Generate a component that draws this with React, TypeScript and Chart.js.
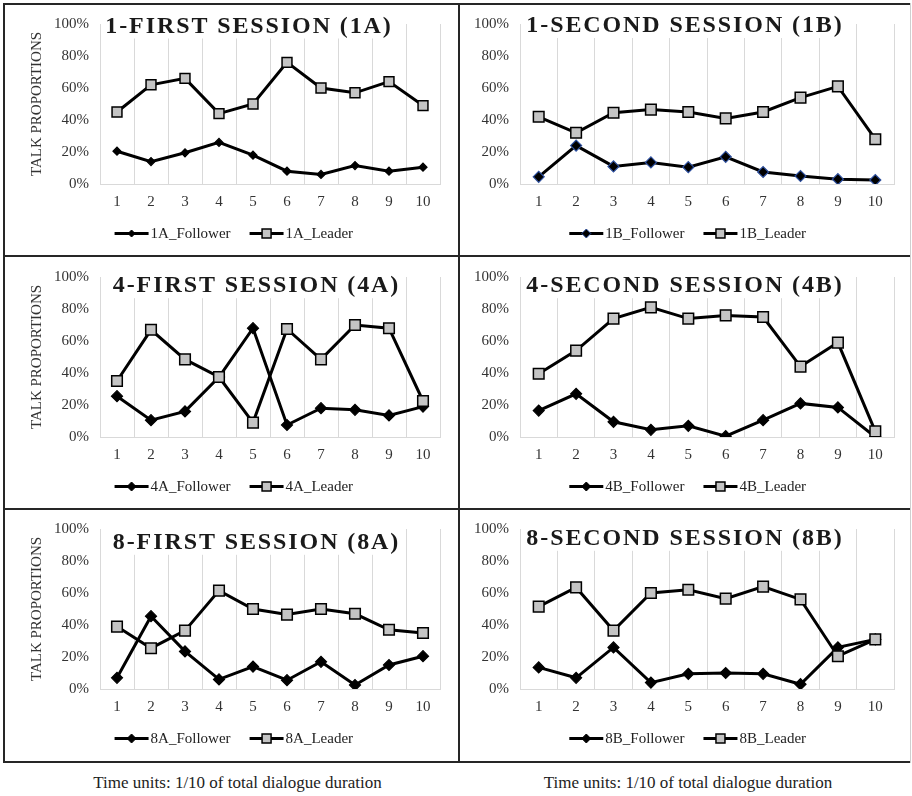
import React, { useEffect, useRef } from 'react';
import { Chart, registerables } from 'chart.js';

Chart.register(...registerables);

// ---------- data ----------
const categories = ['1', '2', '3', '4', '5', '6', '7', '8', '9', '10'];
const yTickValues = [0, 20, 40, 60, 80, 100];
const yAxisTitle = 'TALK PROPORTIONS';
const caption = 'Time units: 1/10 of total dialogue duration';

const follower1A = [20.5, 14, 19.5, 26, 18, 8, 6, 11.5, 8, 10.5];
const leader1A = [45, 62, 66, 44, 50, 76, 60, 57, 64, 49];

const follower1B = [4.5, 24, 11, 13.5, 10.5, 17, 7.5, 5, 3, 2.5];
const leader1B = [42, 32, 44.5, 46.5, 45, 41, 45, 54, 61, 28];

const follower4A = [25.5, 10.5, 16, 37.5, 68, 7.5, 18, 17, 13.5, 19];
const leader4A = [35, 67, 48.5, 37.5, 9, 67.5, 48.5, 70, 68, 22.5];

const follower4B = [16.5, 27, 9.5, 4.5, 7, 0.5, 10.5, 21, 18.5, 0];
const leader4B = [39.5, 54, 74, 81, 74, 76, 75, 44, 59, 3.5];

const follower8A = [7, 45.5, 23.5, 6, 14, 5.5, 17, 2.5, 15, 20.5];
const leader8A = [39, 25.5, 36.5, 61.5, 50, 46.5, 50, 47, 37, 35];

const follower8B = [13.5, 7, 26, 4, 9.5, 10, 9.5, 3, 26, 31];
const leader8B = [51.5, 63.5, 36.5, 60, 62, 56.5, 64, 56, 20.5, 31];

const SERIF = "'Times New Roman', 'Liberation Serif', serif";

type PanelCfg = {
  id: string;
  title: string;
  follower: number[];
  leader: number[];
  left: number;
  top: number;
  width: number;
  height: number;
  axisW: number;
  padRight: number;
  showYTitle: boolean;
  titleCx: number;
  titleBase: number;
  legendCx: number;
  fRadius: number;
  fBorder: string;
  lRadius: number;
};

const LEFT = { left: 4, width: 455, axisW: 96, padRight: 19, showYTitle: true, legendCx: 229.8 };
const RIGHT = { left: 459, width: 452, axisW: 61, padRight: 17, showYTitle: false, legendCx: 228.7 };

const panels: PanelCfg[] = [
  { ...LEFT, id: '1A', title: '1-FIRST SESSION (1A)', follower: follower1A, leader: leader1A, top: 4, height: 252, titleCx: 245, titleBase: 28.5, fRadius: 4, fBorder: '#000', lRadius: 7 },
  { ...RIGHT, id: '1B', title: '1-SECOND SESSION (1B)', follower: follower1B, leader: leader1B, top: 4, height: 252, titleCx: 226, titleBase: 28, fRadius: 5.5, fBorder: '#2d4f9e', lRadius: 7.5 },
  { ...LEFT, id: '4A', title: '4-FIRST SESSION (4A)', follower: follower4A, leader: leader4A, top: 257, height: 252, titleCx: 252.5, titleBase: 35.2, fRadius: 5.5, fBorder: '#000', lRadius: 7.5 },
  { ...RIGHT, id: '4B', title: '4-SECOND SESSION (4B)', follower: follower4B, leader: leader4B, top: 257, height: 252, titleCx: 226, titleBase: 35.2, fRadius: 5.5, fBorder: '#000', lRadius: 7.5 },
  { ...LEFT, id: '8A', title: '8-FIRST SESSION (8A)', follower: follower8A, leader: leader8A, top: 509, height: 252, titleCx: 252.5, titleBase: 39.8, fRadius: 5.5, fBorder: '#000', lRadius: 7.5 },
  { ...RIGHT, id: '8B', title: '8-SECOND SESSION (8B)', follower: follower8B, leader: leader8B, top: 509, height: 252, titleCx: 226, titleBase: 35.8, fRadius: 5.5, fBorder: '#000', lRadius: 7.5 },
];

function drawDiamond(ctx: CanvasRenderingContext2D, x: number, y: number, r: number, fill: string, stroke: string) {
  ctx.beginPath();
  ctx.moveTo(x - r, y);
  ctx.lineTo(x, y - r);
  ctx.lineTo(x + r, y);
  ctx.lineTo(x, y + r);
  ctx.closePath();
  ctx.fillStyle = fill;
  ctx.fill();
  ctx.lineWidth = 1;
  ctx.strokeStyle = stroke;
  ctx.stroke();
}

function drawSquare(ctx: CanvasRenderingContext2D, x: number, y: number, s: number) {
  ctx.fillStyle = '#c4c4c4';
  ctx.fillRect(x - s / 2, y - s / 2, s, s);
  ctx.lineWidth = 1.5;
  ctx.strokeStyle = '#000';
  ctx.strokeRect(x - s / 2, y - s / 2, s, s);
}

function makeTitlePlugin(cfg: PanelCfg) {
  return {
    id: 'panelTitle' + cfg.id,
    beforeDatasetsDraw(chart: any) {
      const ctx: CanvasRenderingContext2D = chart.ctx;
      ctx.save();
      ctx.font = `bold 24px ${SERIF}`;
      (ctx as any).letterSpacing = '1.9px';
      const w = ctx.measureText(cfg.title).width;
      const x0 = cfg.titleCx - w / 2;
      ctx.fillStyle = '#ffffff';
      ctx.fillRect(x0 - 4, cfg.titleBase - 21, w + 8, 27);
      ctx.fillStyle = '#1a1a1a';
      ctx.textAlign = 'left';
      ctx.textBaseline = 'alphabetic';
      ctx.fillText(cfg.title, x0, cfg.titleBase);
      ctx.restore();
    },
  };
}

function makeLegendPlugin(cfg: PanelCfg) {
  return {
    id: 'panelLegend' + cfg.id,
    afterDraw(chart: any) {
      const ctx: CanvasRenderingContext2D = chart.ctx;
      const datasets = chart.data.datasets;
      ctx.save();
      ctx.font = `15px ${SERIF}`;
      const lineLen = 34;
      const gapText = 2;
      const gapItem = 19;
      const widths = datasets.map((d: any) => lineLen + gapText + ctx.measureText(d.label).width);
      const total = widths.reduce((a: number, b: number) => a + b, 0) + gapItem * (datasets.length - 1);
      let x = cfg.legendCx - total / 2;
      const y = 229.5;
      datasets.forEach((d: any, i: number) => {
        ctx.beginPath();
        ctx.moveTo(x, y);
        ctx.lineTo(x + lineLen, y);
        ctx.lineWidth = 3;
        ctx.strokeStyle = '#000';
        ctx.stroke();
        const mx = x + lineLen / 2;
        if (i === 0) {
          drawDiamond(ctx, mx, y, cfg.id === '1A' ? 3.5 : 4.5, '#000', cfg.fBorder);
        } else {
          drawSquare(ctx, mx, y, 9);
        }
        ctx.fillStyle = '#222';
        ctx.textAlign = 'left';
        ctx.textBaseline = 'middle';
        ctx.fillText(d.label, x + lineLen + gapText, y + 1);
        x += widths[i] + gapItem;
      });
      ctx.restore();
    },
  };
}

function Panel({ cfg }: { cfg: PanelCfg }) {
  const ref = useRef<HTMLCanvasElement>(null);
  useEffect(() => {
    const canvas = ref.current!;
    const tickFont = { family: SERIF, size: 15 };
    const chart = new Chart(canvas, {
      type: 'line',
      data: {
        labels: categories,
        datasets: [
          {
            label: `${cfg.id}_Follower`,
            data: cfg.follower,
            borderColor: '#000',
            borderWidth: 3,
            pointStyle: 'rectRot',
            pointRadius: cfg.fRadius,
            pointBackgroundColor: '#000',
            pointBorderColor: cfg.fBorder,
            pointBorderWidth: 1.2,
            tension: 0,
            order: 1,
          },
          {
            label: `${cfg.id}_Leader`,
            data: cfg.leader,
            borderColor: '#000',
            borderWidth: 3,
            pointStyle: 'rect',
            pointRadius: cfg.lRadius,
            pointBackgroundColor: '#c4c4c4',
            pointBorderColor: '#000',
            pointBorderWidth: 1.5,
            tension: 0,
            order: 0,
          },
        ],
      },
      options: {
        responsive: false,
        animation: false,
        devicePixelRatio: 1,
        layout: { padding: { left: 0, right: cfg.padRight, top: 18, bottom: 42 } },
        plugins: {
          legend: { display: false },
          tooltip: { enabled: false },
          title: { display: false },
        },
        scales: {
          x: {
            offset: true,
            grid: { offset: true, color: '#d9d9d9', lineWidth: 1, drawTicks: false },
            border: { color: '#d9d9d9', width: 1 },
            ticks: { font: tickFont, color: '#333', padding: 9, maxRotation: 0, autoSkip: false },
            afterFit: (s: any) => {
              s.height = 30;
            },
          },
          y: {
            min: yTickValues[0],
            max: yTickValues[yTickValues.length - 1],
            grid: { display: false, drawTicks: false },
            border: { display: false },
            afterBuildTicks: (s: any) => {
              s.ticks = yTickValues.map((v) => ({ value: v }));
            },
            ticks: {
              font: tickFont,
              color: '#333',
              padding: 11,
              callback: (v: any) => v + '%',
            },
            title: {
              display: cfg.showYTitle,
              text: yAxisTitle,
              font: { family: SERIF, size: 15 },
              color: '#333',
              padding: { top: 24, bottom: 0 },
            },
            afterFit: (s: any) => {
              s.width = cfg.axisW;
            },
          },
        },
      } as any,
      plugins: [makeTitlePlugin(cfg), makeLegendPlugin(cfg)],
    });
    return () => chart.destroy();
  }, [cfg]);
  return (
    <canvas
      ref={ref}
      width={cfg.width}
      height={cfg.height}
      style={{ position: 'absolute', left: cfg.left, top: cfg.top, width: cfg.width, height: cfg.height }}
    />
  );
}

const lineColor = '#262626';

export default function App() {
  const line = (style: React.CSSProperties) => (
    <div style={{ position: 'absolute', background: lineColor, zIndex: 2, ...style }} />
  );
  return (
    <div
      style={{
        position: 'absolute',
        left: 0,
        top: 0,
        width: 912,
        height: 796,
        background: '#fff',
        overflow: 'hidden',
      }}
    >
      {panels.map((p) => (
        <Panel key={p.id} cfg={p} />
      ))}
      {line({ left: 3, top: 3, width: 908, height: 2 })}
      {line({ left: 3, top: 761, width: 908, height: 2 })}
      {line({ left: 3, top: 3, width: 2, height: 760 })}
      {line({ left: 458, top: 3, width: 2, height: 760 })}
      {line({ left: 3, top: 255, width: 908, height: 2 })}
      {line({ left: 3, top: 508, width: 908, height: 2 })}
      <div style={{ position: 'absolute', left: 910, top: 3, width: 1, height: 760, background: '#cfcfcf', zIndex: 2 }} />
      <div
        style={{
          position: 'absolute',
          left: 4,
          top: 772,
          width: 467,
          height: 22,
          lineHeight: '22px',
          textAlign: 'center',
          fontFamily: SERIF,
          fontSize: 17,
          color: '#222',
          whiteSpace: 'nowrap',
        }}
      >
        {caption}
      </div>
      <div
        style={{
          position: 'absolute',
          left: 459,
          top: 772,
          width: 458,
          height: 22,
          lineHeight: '22px',
          textAlign: 'center',
          fontFamily: SERIF,
          fontSize: 17,
          color: '#222',
          whiteSpace: 'nowrap',
        }}
      >
        {caption}
      </div>
    </div>
  );
}
